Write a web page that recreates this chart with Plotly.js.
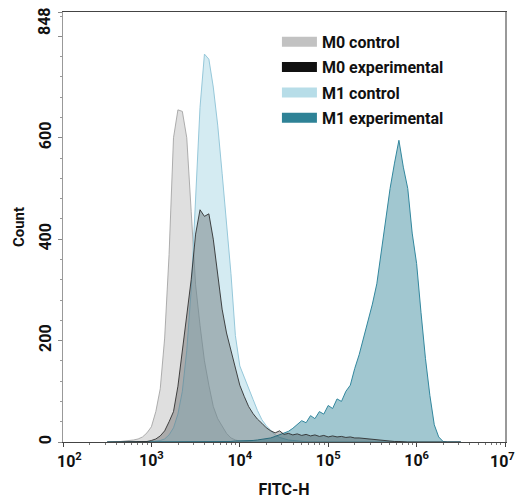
<!DOCTYPE html>
<html>
<head>
<meta charset="utf-8">
<script src="https://cdn.plot.ly/plotly-3.0.1.min.js"></script>
<style>html,body{margin:0;padding:0;background:#fff;}#chart{width:516px;height:499px;}</style>
</head>
<body>
<div id="chart"></div>
<script>
// log10 of FITC-H channel (bin centres)
const logChannel = [2.50,2.55,2.60,2.65,2.70,2.75,2.80,2.85,2.90,2.95,
  3.00,3.05,3.10,3.15,3.20,3.25,3.30,3.35,3.40,3.45,
  3.50,3.55,3.60,3.65,3.70,3.75,3.80,3.85,3.90,3.95,
  4.00,4.05,4.10,4.15,4.20,4.25,4.30,4.35,4.40,4.45,
  4.50,4.55,4.60,4.65,4.70,4.75,4.80,4.85,4.90,4.95,
  5.00,5.05,5.10,5.15,5.20,5.25,5.30,5.35,5.40,5.45,
  5.50,5.55,5.60,5.65,5.70,5.75,5.80,5.85,5.90,5.95,
  6.00,6.05,6.10,6.15,6.20,6.25,6.30,6.35,6.40,6.45,6.50];

const m0Control = [0,1,1,1,2,2,4,6,10,18,
  30,60,105,205,370,600,655,652,600,455,
  310,230,160,112,70,46,30,17,8,4,
  2,1,0,0,0,0,0,0,0,0,
  0,0,0,0,0,0,0,0,0,0,
  0,0,0,0,0,0,0,0,0,0,
  0,0,0,0,0,0,0,0,0,0,
  0,0,0,0,0,0,0,0,0,0,0];

const m0Experimental = [0,0,0,0,0,0,0,0,1,1,
  3,6,12,22,40,60,110,180,240,320,
  410,458,445,450,400,325,262,215,182,145,
  112,90,70,56,45,37,28,22,18,22,
  15,17,14,16,13,15,12,14,11,13,
  10,12,10,11,9,10,8,8,7,6,
  6,5,4,3,2,1,1,0,0,0,
  0,0,0,0,0,0,0,0,0,0,0];

const m1Control = [0,0,0,0,0,0,0,0,0,0,
  1,2,3,6,14,28,55,100,180,300,
  480,660,765,755,700,625,530,435,332,210,
  150,128,104,84,62,44,32,22,14,9,
  6,4,3,2,1,1,0,0,0,0,
  0,0,0,0,0,0,0,0,0,0,
  0,0,0,0,0,0,0,0,0,0,
  0,0,0,0,0,0,0,0,0,0,0];

const m1Experimental = [0,0,0,0,0,0,0,0,0,0,
  0,0,0,0,0,0,0,0,0,0,
  0,0,0,0,0,0,1,1,1,2,
  2,2,2,3,4,5,6,8,11,14,
  17,21,27,34,42,38,52,46,60,55,
  72,66,85,80,100,112,145,172,205,236,
  272,312,378,440,500,550,595,542,500,412,
  352,255,165,92,34,10,1,0,0,0,0];

const seriesNames = ['M0 control', 'M0 experimental', 'M1 control', 'M1 experimental'];
const legendColors = ['#c2c2c2', '#111111', '#b7dde8', '#2e8296'];
const yTickVals = [0, 200, 400, 600, 800, 848];
const yTickText = ['0', '200', '400', '600', '', ''];
const yTopLabel = '848';
const xTickVals = [1e2, 1e3, 1e4, 1e5, 1e6, 1e7];
const xTickText = ['', '10<sup>3</sup>', '10<sup>4</sup>', '10<sup>5</sup>', '10<sup>6</sup>', ''];
const xEdgeLabels = ['10<sup>2</sup>', '10<sup>7</sup>'];

const xVals = logChannel.map(v => Math.pow(10, v));

function histTrace(y, fill, line) {
  return {x: xVals, y: y, type: 'scatter', mode: 'lines', fill: 'tozeroy',
    fillcolor: fill, line: {color: line, width: 1}, showlegend: false, hoverinfo: 'skip'};
}

const traces = [
  histTrace(m0Control, 'rgba(175,175,175,0.40)', 'rgba(165,165,165,0.9)'),
  histTrace(m1Control, 'rgba(170,215,230,0.50)', 'rgba(150,200,218,1)'),
  histTrace(m1Experimental, 'rgba(46,130,150,0.45)', 'rgba(50,135,158,1)'),
  histTrace(m0Experimental, 'rgba(25,25,25,0.26)', 'rgba(40,40,40,0.85)')
];
seriesNames.forEach((n, i) => {
  traces.push({x: [null], y: [null], type: 'scatter', mode: 'lines', name: n,
    legendgroup: 'g' + i,
    line: {color: legendColors[i], width: 11}, showlegend: true, hoverinfo: 'skip'});
});

const fontFam = 'Roboto, Arial, sans-serif';
const tickFont = {family: fontFam, size: 16, weight: 'bold', color: '#111'};
const layout = {
  width: 516, height: 499,
  margin: {l: 63, r: 11, t: 12, b: 57},
  paper_bgcolor: '#fff', plot_bgcolor: '#fff',
  showlegend: true,
  legend: {x: 0.484, y: 0.97, xanchor: 'left', yanchor: 'top', bgcolor: 'rgba(0,0,0,0)',
    itemwidth: 35, tracegroupgap: 1.5,
    font: {family: fontFam, size: 16, weight: 'bold', color: '#111'}},
  xaxis: {type: 'log', range: [2, 7], tickvals: xTickVals, ticktext: xTickText,
    showgrid: false, zeroline: false, showline: true, linecolor: '#444', linewidth: 1, mirror: true,
    ticks: 'outside', ticklen: 4, tickcolor: '#444',
    minor: {ticks: 'outside', ticklen: 2, tickcolor: '#777', dtick: 'D1', showgrid: false},
    tickfont: tickFont,
    title: {text: 'FITC-H', font: {family: fontFam, size: 16, weight: 'bold', color: '#111'}, standoff: 14}},
  yaxis: {range: [0, 848], showgrid: false, zeroline: false, showline: true, linecolor: '#999', linewidth: 1.5, mirror: true,
    tickvals: yTickVals, ticktext: yTickText,
    ticks: 'outside', ticklen: 4, tickcolor: '#888', tickangle: -90,
    minor: {ticks: 'outside', ticklen: 2, tickcolor: '#999', dtick: 40, tick0: 0, showgrid: false},
    tickfont: tickFont,
    title: {text: 'Count', font: {family: fontFam, size: 15, weight: 'bold', color: '#111'}, standoff: 8}},
  annotations: [
    {text: yTopLabel, xref: 'paper', yref: 'y', x: 0, y: 848, xanchor: 'center', yanchor: 'middle',
      xshift: -19, yshift: -9, textangle: -90, showarrow: false, font: tickFont},
    {text: xEdgeLabels[0], xref: 'x', yref: 'paper', x: 2, y: 0, xanchor: 'left', yanchor: 'top',
      xshift: -8, yshift: -6, showarrow: false, font: tickFont},
    {text: xEdgeLabels[1], xref: 'x', yref: 'paper', x: 7, y: 0, xanchor: 'right', yanchor: 'top',
      xshift: 12, yshift: -6, showarrow: false, font: tickFont}
  ]
};

Plotly.newPlot('chart', traces, layout, {displayModeBar: false, staticPlot: true});
</script>
</body>
</html>
